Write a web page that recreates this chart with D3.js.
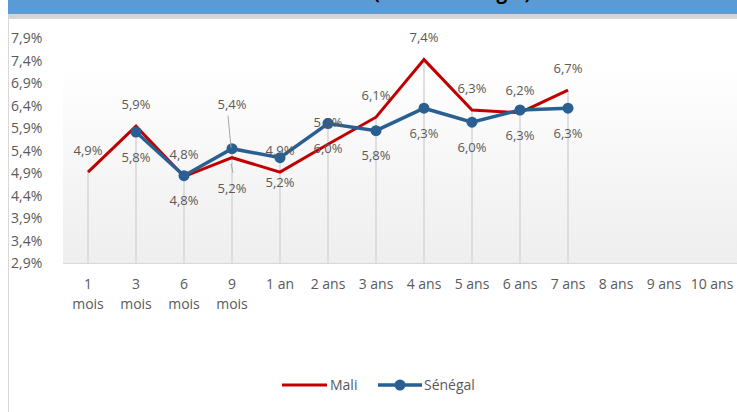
<!DOCTYPE html>
<html><head><meta charset="utf-8">
<script src="https://cdn.jsdelivr.net/npm/d3@7"></script>
<style>
body{margin:0;background:#fff;overflow:hidden}
text{font-family:"Open Sans","Noto Sans",sans-serif}
</style></head>
<body>
<svg id="c" width="737" height="412"></svg>
<script>
// ---- data ----
const categories = ["1 mois","3 mois","6 mois","9 mois","1 an","2 ans","3 ans","4 ans","5 ans","6 ans","7 ans","8 ans","9 ans","10 ans"];
const mali    = [4.92, 5.94, 4.82, 5.24, 4.92, 5.54, 6.14, 7.42, 6.30, 6.24, 6.74, null, null, null];
const senegal = [null, 5.81, 4.84, 5.44, 5.24, 6.00, 5.84, 6.34, 6.03, 6.30, 6.34, null, null, null];
const yTicks  = [2.9, 3.4, 3.9, 4.4, 4.9, 5.4, 5.9, 6.4, 6.9, 7.4, 7.9];
const seriesNames = ["Mali", "Sénégal"];
const titleText = "Courbe des taux (Mali vs Sénégal)";

// ---- style / layout ----
const colors = {Mali: "#C00000", "Sénégal": "#2A5F92"};
const labelShift = {"9 mois": {Mali: 31, "Sénégal": -44}};
const fmt = v => d3.format(".1f")(v).replace(".", ",") + "%";
const axisFont = 14;

const svg = d3.select("#c");
const x = d3.scaleBand().domain(categories).range([64, 736]);
const cx = c => x(c) + x.bandwidth() / 2;
const y = d3.scaleLinear().domain([2.9, 7.9]).range([263, 38]);

// title bar
svg.append("rect").attr("x", 8).attr("y", 0).attr("width", 729).attr("height", 14).attr("fill", "#5B9BD5");
svg.append("rect").attr("x", 8).attr("y", 14).attr("width", 729).attr("height", 4).attr("fill", "#d4d4d4");
svg.append("text").attr("x", 531).attr("y", -1).attr("text-anchor", "end")
  .attr("font-size", 19).attr("font-weight", "bold").attr("fill", "#000").text(titleText);

// chart border
svg.append("rect").attr("x", 8.5).attr("y", 18.5).attr("width", 740).attr("height", 400)
  .attr("fill", "none").attr("stroke", "#d9d9d9");

// plot background gradient
const defs = svg.append("defs");
const g = defs.append("linearGradient").attr("id", "bg").attr("x1", 0).attr("x2", 0).attr("y1", 0).attr("y2", 1);
g.append("stop").attr("offset", "0%").attr("stop-color", "#ffffff");
g.append("stop").attr("offset", "100%").attr("stop-color", "#eeeeee");
svg.append("rect").attr("x", 63).attr("y", 66).attr("width", 674).attr("height", 197).attr("fill", "url(#bg)");

// y axis labels
const yAxis = d3.axisLeft(y).tickValues(yTicks).tickFormat(fmt).tickSize(0);
const ya = svg.append("g").attr("transform", "translate(11,0)").call(yAxis);
ya.select(".domain").remove();
ya.selectAll("text").attr("text-anchor", "start").attr("x", 0).attr("dy", "0.35em")
  .attr("font-size", axisFont).attr("fill", "#595959").style("font-family", "'Open Sans',sans-serif");

// x axis labels
const xAxis = d3.axisBottom(x).tickSize(0);
const xa = svg.append("g").attr("transform", "translate(0,263)").call(xAxis);
xa.select(".domain").attr("stroke", "#d9d9d9").attr("d", "M63,0.5H737");
xa.selectAll("text").attr("font-size", axisFont).attr("fill", "#595959").style("font-family", "'Open Sans',sans-serif")
  .each(function(d) {
    const t = d3.select(this);
    t.text(null).attr("y", 0).attr("dy", null);
    if (d.includes("mois")) {
      const parts = d.split(" ");
      t.append("tspan").attr("x", 0).attr("y", 26).text(parts[0]);
      t.append("tspan").attr("x", 0).attr("y", 46).text(parts[1]);
    } else {
      t.append("tspan").attr("x", 0).attr("y", 26).text(d);
    }
  });

// drop lines
categories.forEach((c, i) => {
  const vals = [mali[i], senegal[i]].filter(v => v != null);
  if (!vals.length) return;
  svg.append("line").attr("x1", cx(c)).attr("x2", cx(c))
    .attr("y1", y(d3.max(vals))).attr("y2", 263)
    .attr("stroke", "#d6d6d6").attr("stroke-width", 1.5);
});

// lines
const series = [{name: "Mali", values: mali}, {name: "Sénégal", values: senegal}];
const line = d3.line().defined(d => d.v != null).x(d => cx(d.c)).y(d => y(d.v));
series.forEach(s => {
  const pts = categories.map((c, i) => ({c, v: s.values[i]}));
  svg.append("path").datum(pts).attr("d", line).attr("fill", "none")
    .attr("stroke", colors[s.name]).attr("stroke-width", s.name === "Mali" ? 3 : 3.5)
    .attr("stroke-linejoin", "miter");
  if (s.name === "Sénégal") {
    svg.selectAll(null).data(pts.filter(d => d.v != null)).enter().append("circle")
      .attr("cx", d => cx(d.c)).attr("cy", d => y(d.v)).attr("r", 5.5).attr("fill", colors[s.name]);
  }
});

// data labels
series.forEach(s => {
  categories.forEach((c, i) => {
    const v = s.values[i];
    if (v == null) return;
    const base = s.name === "Mali" ? -22 : 25;
    const sh = labelShift[c] ? labelShift[c][s.name] : base;
    const ly = y(v) + sh;
    svg.append("text").attr("x", cx(c)).attr("y", ly).attr("dy", "0.35em")
      .attr("text-anchor", "middle").attr("font-size", 13).attr("fill", "#595959").text(fmt(v));
    if (labelShift[c]) {
      const up = sh < 0;
      svg.append("line")
        .attr("x1", cx(c) + (up ? -4 : 1)).attr("y1", up ? ly + 11 : ly - 16)
        .attr("x2", cx(c) - 1).attr("y2", up ? y(v) - 1 : y(v) + 6)
        .attr("stroke", "#a6a6a6").attr("stroke-width", 1);
    }
  });
});

// legend
const lg = svg.append("g").attr("transform", "translate(0,385)");
lg.append("line").attr("x1", 282).attr("x2", 327).attr("y1", 0).attr("y2", 0).attr("stroke", colors.Mali).attr("stroke-width", 3);
lg.append("text").attr("x", 330).attr("y", 0).attr("dy", "0.35em").attr("font-size", axisFont).attr("fill", "#595959").text(seriesNames[0]);
lg.append("line").attr("x1", 378).attr("x2", 422).attr("y1", 0).attr("y2", 0).attr("stroke", colors["Sénégal"]).attr("stroke-width", 3.5);
lg.append("circle").attr("cx", 400).attr("cy", 0).attr("r", 5.5).attr("fill", colors["Sénégal"]);
lg.append("text").attr("x", 424).attr("y", 0).attr("dy", "0.35em").attr("font-size", axisFont).attr("fill", "#595959").text(seriesNames[1]);
</script>
</body></html>
